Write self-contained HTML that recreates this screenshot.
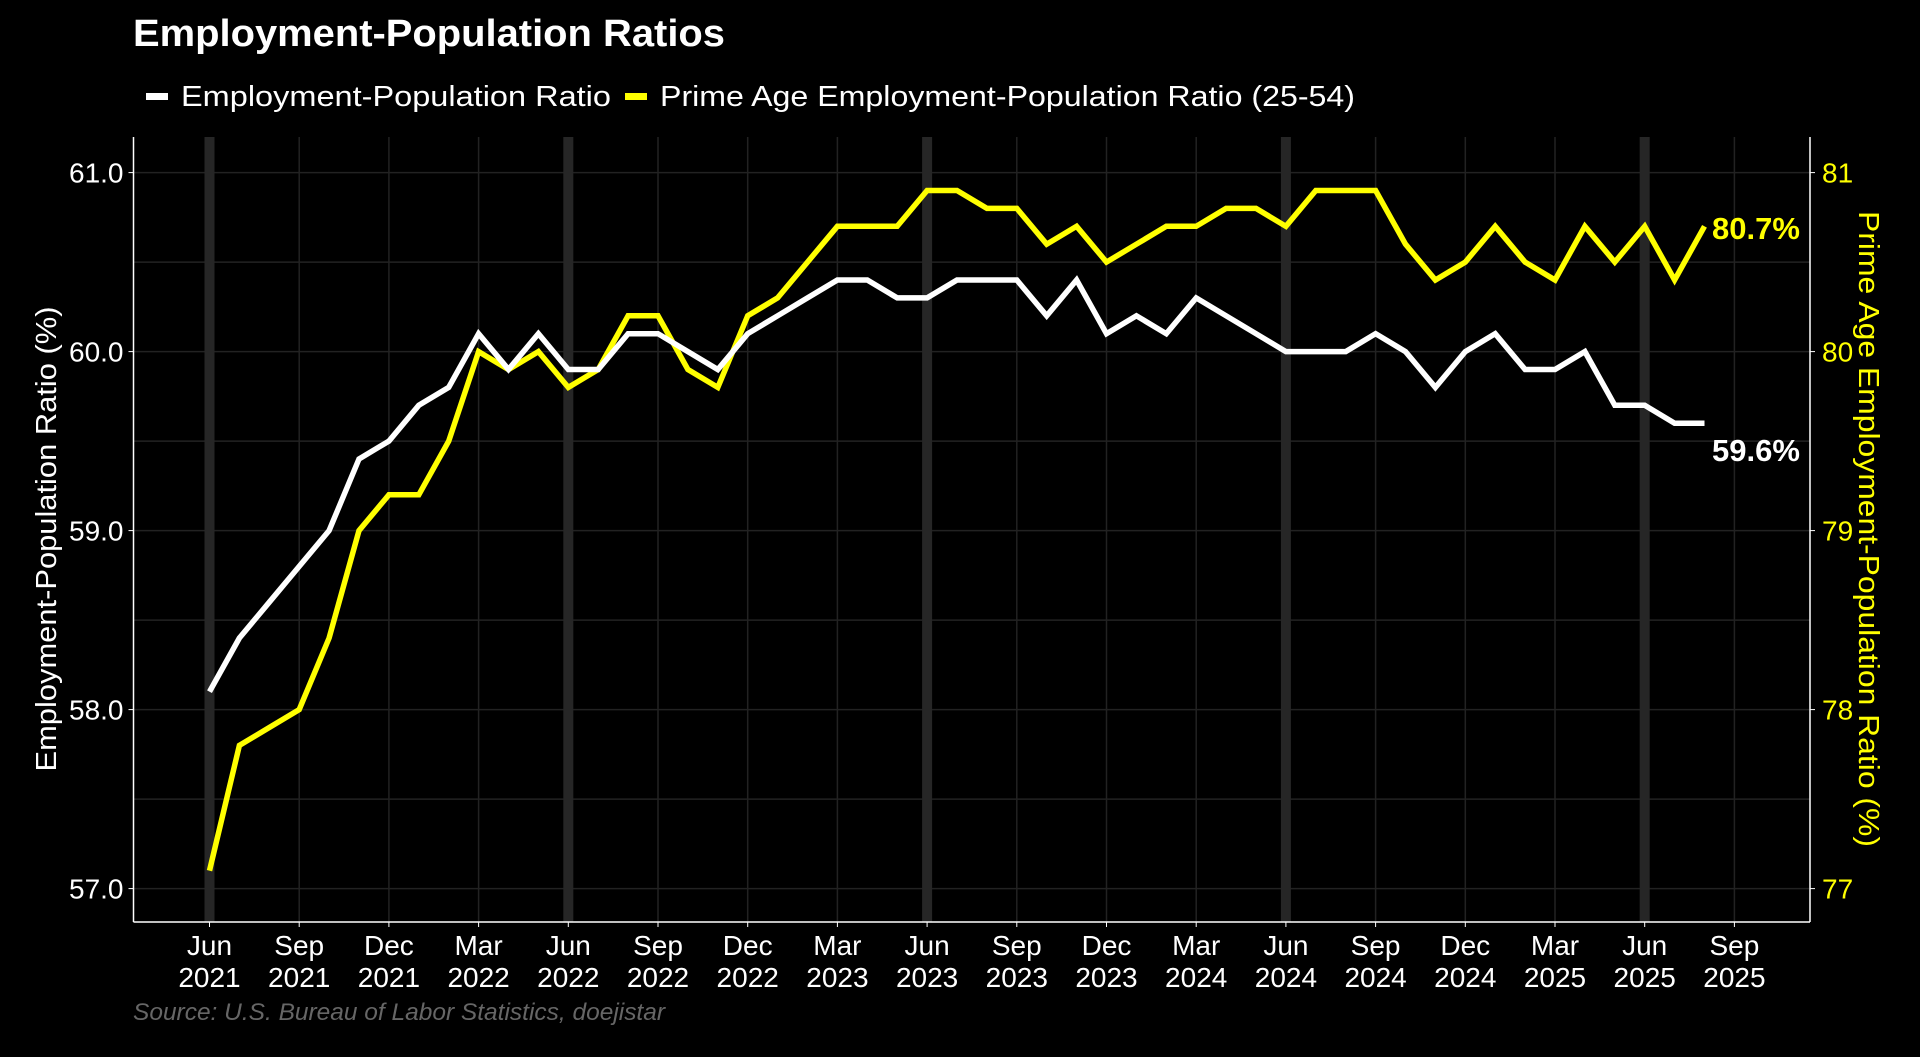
<!DOCTYPE html>
<html><head><meta charset="utf-8"><style>
html,body{margin:0;padding:0;background:#000;width:1920px;height:1057px;overflow:hidden}
svg{display:block;font-family:"Liberation Sans",sans-serif}
</style></head><body>
<svg id="s" width="1920" height="1057" xmlns="http://www.w3.org/2000/svg"></svg>
<script>
const W=[58.1,58.4,58.6,58.8,59.0,59.4,59.5,59.7,59.8,60.1,59.9,60.1,59.9,59.9,60.1,60.1,60.0,59.9,60.1,60.2,60.3,60.4,60.4,60.3,60.3,60.4,60.4,60.4,60.2,60.4,60.1,60.2,60.1,60.3,60.2,60.1,60.0,60.0,60.0,60.1,60.0,59.8,60.0,60.1,59.9,59.9,60.0,59.7,59.7,59.6,59.6];
const Y=[77.1,77.8,77.9,78.0,78.4,79.0,79.2,79.2,79.5,80.0,79.9,80.0,79.8,79.9,80.2,80.2,79.9,79.8,80.2,80.3,80.5,80.7,80.7,80.7,80.9,80.9,80.8,80.8,80.6,80.7,80.5,80.6,80.7,80.7,80.8,80.8,80.7,80.9,80.9,80.9,80.6,80.4,80.5,80.7,80.5,80.4,80.7,80.5,80.7,80.4,80.7];
const X0=209.5,DX=29.9,L=133.5,R=1810,T=137,B=922,U=179;
const xm=i=>X0+i*DX, yl=v=>172.6+(61-v)*U, yr=v=>172.6+(81-v)*U;
let h='';
for(let v=56.5;v<=61.01;v+=0.5){const y=yl(v);if(y>T&&y<B)h+=`<line x1="${L}" x2="${R}" y1="${y}" y2="${y}" stroke="#222" stroke-width="1.5"/>`;}
const mons=['Jun','Sep','Dec','Mar'];
for(let k=0;k<=17;k++){const x=xm(k*3);h+=`<line x1="${x}" x2="${x}" y1="${T}" y2="${B}" stroke="#222" stroke-width="1.5"/>`;}
for(let k=0;k<=4;k++){const x=xm(k*12);h+=`<rect x="${x-5}" y="${T}" width="10" height="${B-T}" fill="#262626"/>`;}
h+=`<line x1="${L}" x2="${L}" y1="${T}" y2="${B}" stroke="#fff" stroke-width="1.5"/>`;
h+=`<line x1="${R}" x2="${R}" y1="${T}" y2="${B}" stroke="#fff" stroke-width="1.5"/>`;
h+=`<line x1="${L}" x2="${R}" y1="${B}" y2="${B}" stroke="#fff" stroke-width="1.5"/>`;
for(let v=57;v<=61;v++){const y=yl(v);h+=`<line x1="${L-5}" x2="${L}" y1="${y}" y2="${y}" stroke="#fff"/><text x="${L-10}" y="${y+10}" fill="#fff" font-size="28" text-anchor="end">${v.toFixed(1)}</text>`;}
for(let v=77;v<=81;v++){const y=yr(v);h+=`<line x1="${R}" x2="${R+5}" y1="${y}" y2="${y}" stroke="#fff"/><text x="${R+12}" y="${y+10}" fill="#ffff00" font-size="28">${v}</text>`;}
for(let k=0;k<=17;k++){const x=xm(k*3);const m=mons[k%4];
 const mi=5+k*3; const year=2021+Math.floor(mi/12);
 h+=`<line x1="${x}" x2="${x}" y1="${B}" y2="${B+5}" stroke="#fff"/><text x="${x}" y="${955}" fill="#fff" font-size="28" text-anchor="middle">${m}</text><text x="${x}" y="${987}" fill="#fff" font-size="28" text-anchor="middle">${year}</text>`;}
const pl=(a,f)=>a.map((v,i)=>xm(i).toFixed(1)+','+f(v).toFixed(1)).join(' ');
h+=`<polyline points="${pl(Y,yr)}" fill="none" stroke="#ffff00" stroke-width="5.5" stroke-linejoin="miter"/>`;
h+=`<polyline points="${pl(W,yl)}" fill="none" stroke="#fff" stroke-width="5.5" stroke-linejoin="miter"/>`;
h+=`<text x="1712" y="239" fill="#ffff00" font-size="31" font-weight="bold">80.7%</text>`;
h+=`<text x="1712" y="461" fill="#fff" font-size="31" font-weight="bold">59.6%</text>`;
h+=`<text x="133" y="46" fill="#fff" font-size="38" font-weight="bold" textLength="592" lengthAdjust="spacingAndGlyphs">Employment-Population Ratios</text>`;
h+=`<rect x="146" y="93" width="22" height="7" fill="#fff"/><text x="181" y="106" fill="#fff" font-size="29" textLength="430" lengthAdjust="spacingAndGlyphs">Employment-Population Ratio</text>`;
h+=`<rect x="625" y="93" width="22" height="7" fill="#ffff00"/><text x="660" y="106" fill="#fff" font-size="29" textLength="695" lengthAdjust="spacingAndGlyphs">Prime Age Employment-Population Ratio (25-54)</text>`;
h+=`<text transform="translate(56,539) rotate(-90)" fill="#fff" font-size="29" text-anchor="middle" textLength="465" lengthAdjust="spacingAndGlyphs">Employment-Population Ratio (%)</text>`;
h+=`<text transform="translate(1859,529) rotate(90)" fill="#ffff00" font-size="29" text-anchor="middle" textLength="636" lengthAdjust="spacingAndGlyphs">Prime Age Employment-Population Ratio (%)</text>`;
h+=`<text x="133" y="1020" fill="#666" font-size="24" font-style="italic" textLength="532" lengthAdjust="spacingAndGlyphs">Source: U.S. Bureau of Labor Statistics, doejistar</text>`;
document.getElementById('s').innerHTML=h;
</script>
</body></html>
